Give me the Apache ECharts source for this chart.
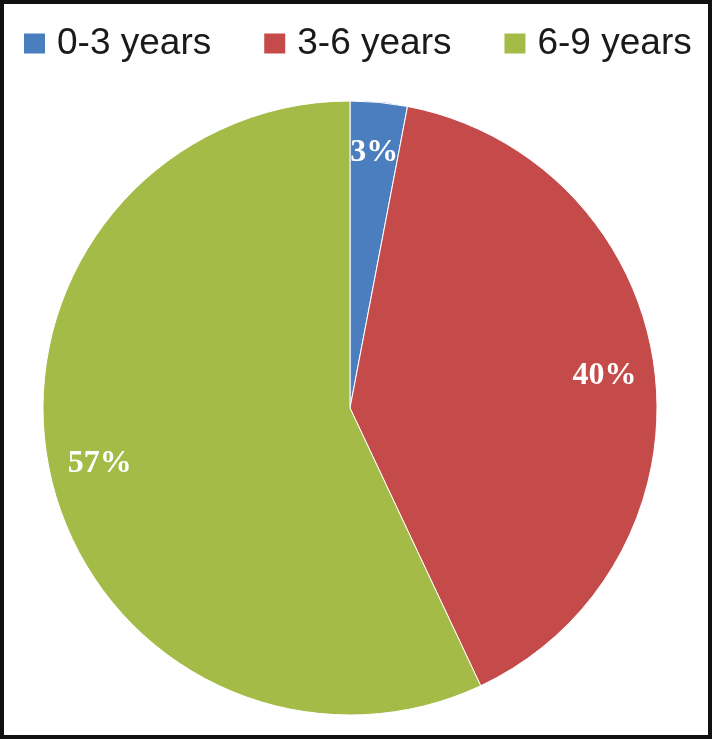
<!DOCTYPE html>
<html>
<head>
<meta charset="utf-8">
<script src="https://cdn.jsdelivr.net/npm/echarts@6/dist/echarts.min.js"></script>
<style>
  html, body { margin: 0; padding: 0; background: #fff; }
  #chart { width: 712px; height: 739px; }
</style>
</head>
<body>
<div id="chart"></div>
<script>
var categories = ['0-3 years', '3-6 years', '6-9 years'];
var values = [3, 40, 57];
var colors = ['#4a7ebe', '#c44b49', '#a4bb48'];

window.addEventListener('load', function() {
    var myChart = echarts.init(document.getElementById('chart'));

    var pieData = categories.map(function(name, i) {
        return { name: name, value: values[i] };
    });

    var option = {
        color: colors,
        animation: false,
        legend: {
            left: 22,
            top: 25,
            padding: 0,
            itemWidth: 23,
            itemHeight: 22,
            itemGap: 51,
            icon: 'rect',
            textStyle: {
                fontFamily: 'Liberation Sans',
                fontSize: 37,
                color: '#1a1a1a',
                padding: [0, 0, 0, 6]
            },
            data: categories
        },
        graphic: [{
            type: 'rect',
            shape: { x: 2, y: 2, width: 708, height: 735 },
            style: { fill: 'none', stroke: '#111', lineWidth: 4 },
            silent: true
        }],
        series: [{
            // the slices
            type: 'pie',
            center: [350, 408],
            radius: 307,
            startAngle: 90,
            clockwise: true,
            itemStyle: { borderColor: '#fff', borderWidth: 1 },
            label: { show: false },
            labelLine: { show: false },
            data: pieData
        }, {
            // invisible ring only used to place the percent labels further out
            type: 'pie',
            center: [350, 408],
            radius: [200, 307],
            startAngle: 90,
            clockwise: true,
            silent: true,
            itemStyle: { color: 'transparent' },
            label: {
                show: true,
                position: 'inside',
                formatter: '{c}%',
                color: '#fff',
                fontFamily: 'Liberation Serif',
                fontWeight: 'bold',
                fontSize: 32
            },
            labelLine: { show: false },
            data: pieData
        }]
    };

    myChart.setOption(option);
});
</script>
</body>
</html>
